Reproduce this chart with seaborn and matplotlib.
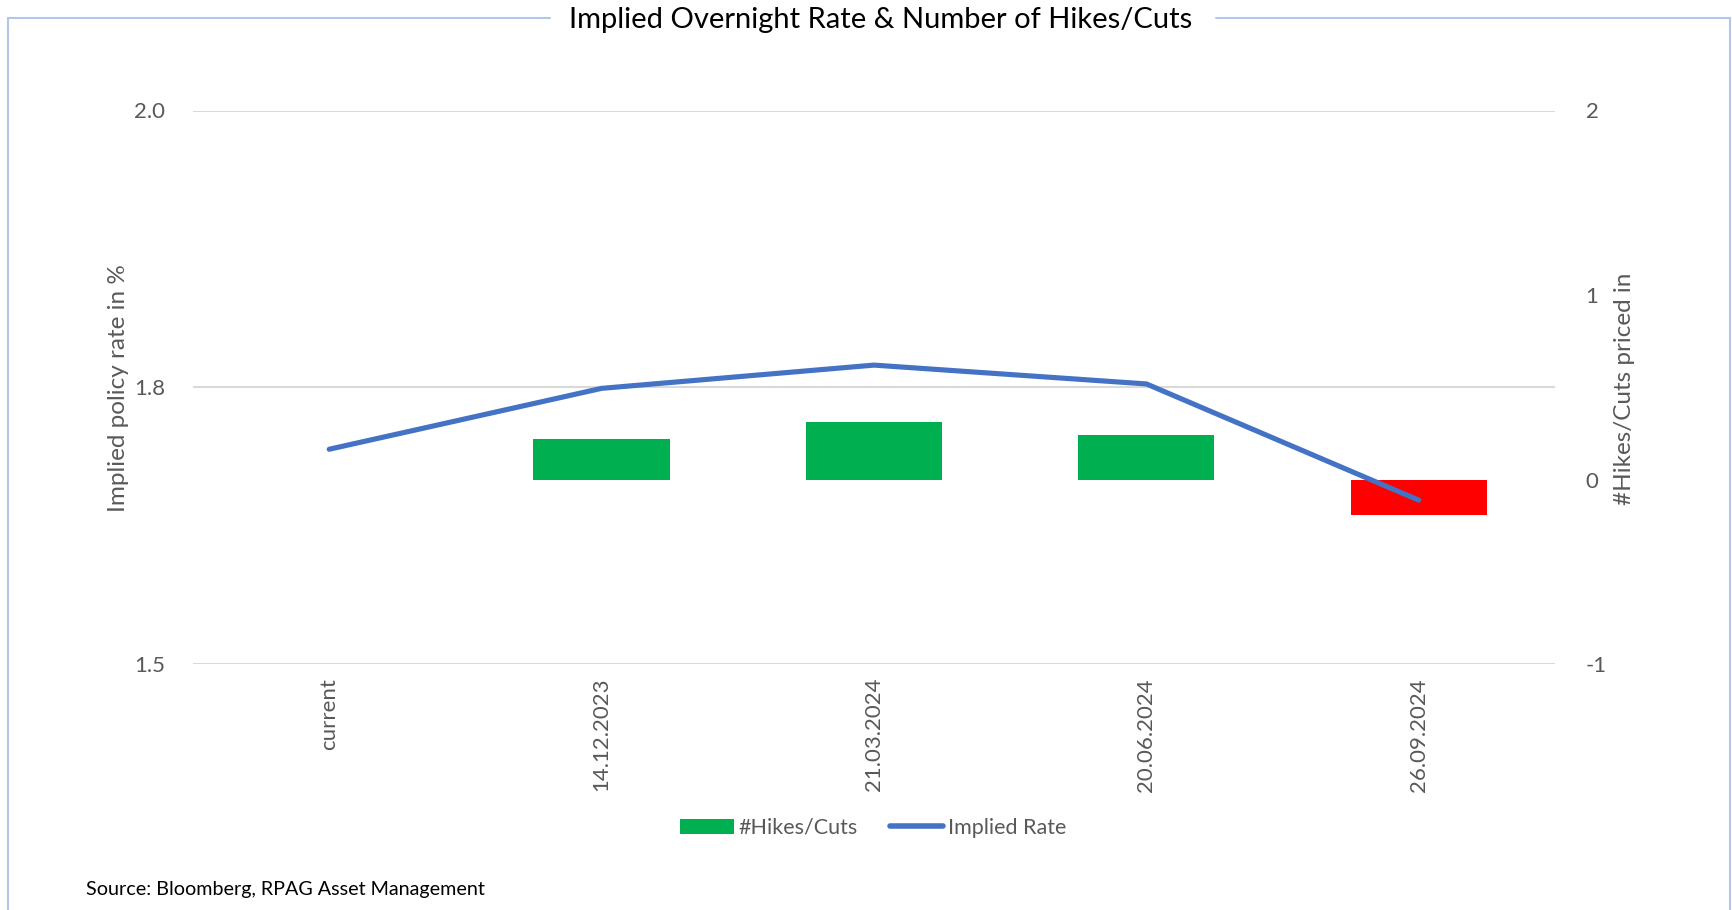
import numpy as np
import pandas as pd
import matplotlib
matplotlib.use("Agg")
import matplotlib.pyplot as plt
from matplotlib.patches import Patch
from matplotlib.lines import Line2D
import seaborn as sns

# ---- data ----
dates = ["current", "14.12.2023", "21.03.2024", "20.06.2024", "26.09.2024"]
implied_rate = [1.694, 1.749, 1.770, 1.753, 1.648]
hikes_cuts = [0.0, 0.22, 0.31, 0.24, -0.19]
rate_ticks = [1.5, 1.75, 2.0]
rate_tick_labels = ["1.5", "1.8", "2.0"]
hike_ticks = [-1, 0, 1, 2]

GREEN = "#00B050"
RED = "#FF0000"
BLUE = "#4472C4"
GRID = "#D9D9D9"
TXT = "#595959"
FRAME = "#B4C6E7"

sns.set_theme(style="white")
plt.rcParams["font.family"] = ["Lato", "DejaVu Sans"]
plt.rcParams["axes.unicode_minus"] = False

df = pd.DataFrame({"date": dates, "rate": implied_rate, "hikes": hikes_cuts})
bar_colors = [GREEN if v >= 0 else RED for v in hikes_cuts]

W, H = 1733, 910
fig = plt.figure(figsize=(W / 100, H / 100), dpi=100)
ax_bar = fig.add_axes([193 / W, 1 - 664 / H, (1555 - 193) / W, (664 - 110.5) / H])
ax_rate = ax_bar.twinx()

# bars (right axis)
sns.barplot(data=df, x="date", y="hikes", hue="date", palette=bar_colors,
            legend=False, width=0.5, saturation=1, linewidth=0, ax=ax_bar)
ax_bar.set_ylim(-1, 2)
ax_bar.set_yticks(hike_ticks)
ax_bar.yaxis.tick_right()
ax_bar.yaxis.set_label_position("right")
ax_bar.set_ylabel("#Hikes/Cuts priced in", fontsize=17.5, color=TXT)
ax_bar.yaxis.set_label_coords(1.043, 0.498)
ax_bar.set_xlabel("")

# line (left axis)
sns.lineplot(x=np.arange(len(dates)), y=df["rate"], color=BLUE, linewidth=3.7,
             ax=ax_rate, solid_capstyle="round")
ax_rate.set_ylim(1.5, 2.0)
ax_rate.set_yticks(rate_ticks)
ax_rate.set_yticklabels(rate_tick_labels)
ax_rate.yaxis.tick_left()
ax_rate.yaxis.set_label_position("left")
ax_rate.set_ylabel("Implied policy rate in %", fontsize=17.5, color=TXT)
ax_rate.yaxis.set_label_coords(-0.047, 0.498)
ax_rate.grid(axis="y", color=GRID, linewidth=1.5)
ax_rate.set_axisbelow(True)
ax_rate.set_xlim(-0.5, len(dates) - 0.5)

ax_bar.set_xticks(range(len(dates)))
ax_bar.set_xticklabels(dates, rotation=90, va="top", ha="center")

for a in (ax_bar, ax_rate):
    for s in a.spines.values():
        s.set_visible(False)
    a.tick_params(length=0, labelsize=16, labelcolor=TXT)
ax_bar.tick_params(axis="y", pad=22)
ax_rate.tick_params(axis="y", pad=20)
ax_bar.tick_params(axis="x", pad=10)
ax_rate.patch.set_visible(False)

# title and frame
fig.text(881 / W, 1 - 20 / H, "Implied Overnight Rate & Number of Hikes/Cuts",
         ha="center", va="center", fontsize=21, color="black")
ly = 1 - 17.7 / H
fig.add_artist(Line2D([8 / W, 550 / W], [ly, ly], color=FRAME, lw=1.5))
fig.add_artist(Line2D([1216 / W, 1730 / W], [ly, ly], color=FRAME, lw=1.5))
fig.add_artist(Line2D([8 / W, 8 / W], [ly, 0], color=FRAME, lw=1.5))
fig.add_artist(Line2D([1730 / W, 1730 / W], [ly, 0], color=FRAME, lw=1.5))

# legend
handles = [Patch(facecolor=GREEN, edgecolor="none"),
           Line2D([0], [0], color=BLUE, lw=4, solid_capstyle="round")]
fig.legend(handles, ["#Hikes/Cuts", "Implied Rate"], loc="center",
           bbox_to_anchor=(873 / W, 1 - 828 / H), ncol=2, frameon=False,
           fontsize=15.5, labelcolor=TXT, handlelength=2.5, handletextpad=0.2,
           columnspacing=1.5)

fig.text(86 / W, 1 - 890 / H, "Source: Bloomberg, RPAG Asset Management",
         ha="left", va="center", fontsize=14.2, color="black")

fig.savefig("out.png", dpi=100)
